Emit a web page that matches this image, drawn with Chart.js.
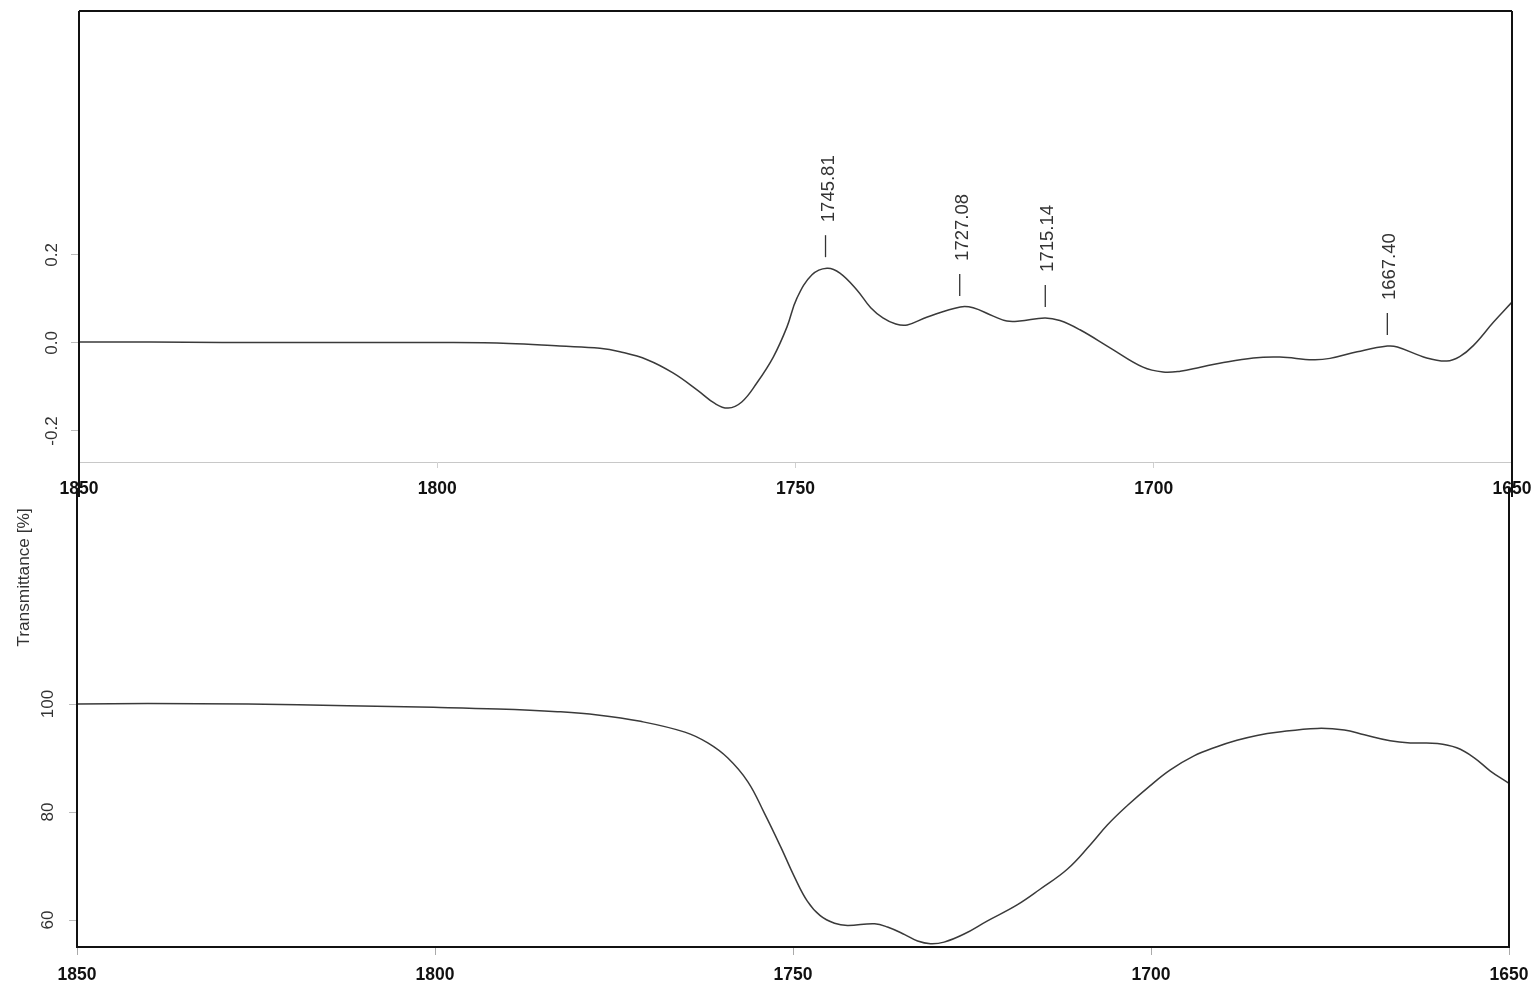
<!DOCTYPE html>
<html>
<head>
<meta charset="utf-8">
<title>IR spectrum 1850-1650</title>
<script src="https://cdn.jsdelivr.net/npm/chart.js@4.4.1/dist/chart.umd.min.js"></script>
<style>
  html, body { margin: 0; padding: 0; background: #fff; }
  #wrap { position: relative; width: 1534px; height: 988px; }
  canvas { position: absolute; left: 0; top: 0; }
</style>
</head>
<body>
<div id="wrap">
  <canvas id="deriv" width="1534" height="520"></canvas>
  <canvas id="trans" width="1534" height="988"></canvas>
</div>
<script>
// wavenumber axis (cm-1), shared by both panels
const wavenumberTicks = [1850, 1800, 1750, 1700, 1650];

// upper panel: derivative spectrum
const derivWavenumber = [1850, 1840, 1830, 1820, 1810, 1800, 1790, 1782.9, 1777.3, 1774.5,
  1770.7, 1767.1, 1763.7, 1761.2, 1759.4, 1757.5, 1755.4, 1753.1, 1751.2, 1749.8,
  1747.7, 1745.6, 1743.8, 1741.4, 1739.5, 1737.8, 1736.0, 1734.4, 1731.6, 1727.0,
  1725.2, 1722.4, 1720.5, 1718.7, 1715.2, 1713.1, 1710.3, 1706.1, 1701.5, 1698.7,
  1696.3, 1693.5, 1690.8, 1686.1, 1682.4, 1677.8, 1675.4, 1671.6, 1667.4, 1666.0,
  1661.9, 1659.1, 1657.3, 1655.4, 1652.6, 1650];
const derivValue = [0.002, 0.002, 0.001, 0.001, 0.001, 0.001, -0.001, -0.007, -0.012, -0.020,
  -0.038, -0.068, -0.107, -0.138, -0.148, -0.134, -0.091, -0.032, 0.036, 0.102,
  0.155, 0.170, 0.159, 0.120, 0.080, 0.057, 0.043, 0.041, 0.059, 0.082,
  0.080, 0.061, 0.050, 0.050, 0.057, 0.051, 0.030, -0.011, -0.055, -0.066,
  -0.064, -0.055, -0.046, -0.034, -0.032, -0.038, -0.035, -0.020, -0.007, -0.009,
  -0.034, -0.041, -0.031, -0.006, 0.047, 0.093];
const derivTicks = [-0.2, 0.0, 0.2];

// picked peaks
const peakPositions = [1745.81, 1727.08, 1715.14, 1667.40];
const peakValues = [0.170, 0.082, 0.057, -0.007];

// lower panel: transmittance
const transWavenumber = [1850, 1840.1, 1826.1, 1812.2, 1800.2, 1791.2, 1782.9, 1777.3, 1771.3, 1765.1,
  1761.9, 1759.1, 1756.3, 1754.0, 1751.7, 1749.8, 1748.0, 1746.2, 1744.2, 1742.4,
  1738.6, 1736.8, 1734.4, 1732.6, 1730.8, 1728.9, 1726.1, 1722.9, 1718.7, 1715.5,
  1711.7, 1708.5, 1706.1, 1703.3, 1700.1, 1697.3, 1694.0, 1690.8, 1688.0, 1685.2,
  1682.4, 1676.8, 1673.0, 1670.2, 1666.6, 1663.8, 1660.0, 1657.3, 1654.9, 1652.6, 1650];
const transValue = [100.0, 100.1, 100.0, 99.7, 99.4, 99.1, 98.6, 98.0, 96.8, 94.8,
  92.8, 90.0, 85.6, 79.8, 73.5, 68.0, 63.5, 60.8, 59.4, 59.0,
  59.3, 58.7, 57.3, 56.1, 55.6, 55.9, 57.4, 59.8, 62.8, 65.7,
  69.4, 73.9, 77.6, 81.2, 84.9, 87.8, 90.4, 92.1, 93.3, 94.2,
  94.8, 95.5, 95.2, 94.3, 93.2, 92.8, 92.7, 91.9, 90.1, 87.6, 85.3];
const transTicks = [60, 80, 100];

Chart.defaults.font.family = '"Liberation Sans", Arial, sans-serif';
Chart.defaults.color = '#333';

const LINE = '#3a3a3a';

// black frame lines on the plot area (sides, optional top)
const frame = {
  id: 'frame',
  afterDraw(chart, args, opts) {
    const { ctx, chartArea: a } = chart;
    const y0 = opts.startY != null ? opts.startY : a.top;
    const y1 = a.bottom + (opts.extend || 0);
    ctx.save();
    ctx.strokeStyle = '#111';
    ctx.lineWidth = 2;
    ctx.beginPath();
    if (opts.top) {
      ctx.moveTo(a.left, a.top);
      ctx.lineTo(a.right, a.top);
    }
    ctx.moveTo(a.left, y0);
    ctx.lineTo(a.left, y1);
    ctx.moveTo(a.right, y0);
    ctx.lineTo(a.right, y1);
    ctx.stroke();
    ctx.restore();
  }
};

// peak markers with rotated labels
const peakMarks = {
  id: 'peakMarks',
  afterDatasetsDraw(chart) {
    const { ctx, scales: { x, y } } = chart;
    ctx.save();
    ctx.strokeStyle = '#333';
    ctx.fillStyle = '#333';
    ctx.lineWidth = 1.3;
    ctx.font = '18.5px "Liberation Sans", Arial, sans-serif';
    peakPositions.forEach((p, i) => {
      const px = x.getPixelForValue(p);
      const py = y.getPixelForValue(peakValues[i]);
      ctx.beginPath();
      ctx.moveTo(px, py - 11);
      ctx.lineTo(px, py - 33);
      ctx.stroke();
      ctx.save();
      ctx.translate(px + 3, py - 46);
      ctx.rotate(-Math.PI / 2);
      ctx.textAlign = 'left';
      ctx.textBaseline = 'middle';
      ctx.fillText(p.toFixed(2), 0, 0);
      ctx.restore();
    });
    ctx.restore();
  }
};

function xAxis(height, tickLen, pad, borderColor, borderWidth, tickColor) {
  return {
    type: 'linear',
    reverse: true,
    min: 1650,
    max: 1850,
    afterBuildTicks: (s) => { s.ticks = wavenumberTicks.map(v => ({ value: v })); },
    afterFit: (s) => { s.height = height; s.paddingLeft = 0; s.paddingRight = 0; },
    grid: { drawOnChartArea: false, tickLength: tickLen, color: tickColor },
    border: { color: borderColor, width: borderWidth },
    ticks: {
      padding: pad,
      maxRotation: 0,
      color: '#111',
      font: { size: 17.5, weight: 'bold' },
      callback: (v) => String(v)
    }
  };
}

function yAxis(width, min, max, tickList, pad, fmt) {
  return {
    min: min,
    max: max,
    afterBuildTicks: (s) => { s.ticks = tickList.map(v => ({ value: v })); },
    afterFit: (s) => { s.width = width; s.paddingTop = 0; s.paddingBottom = 0; },
    grid: { drawOnChartArea: false, tickLength: 8, color: '#bbb' },
    border: { display: false },
    ticks: {
      minRotation: 90,
      maxRotation: 90,
      crossAlign: 'center',
      padding: pad,
      color: '#333',
      font: { size: 17 },
      callback: fmt
    }
  };
}

const common = {
  responsive: false,
  animation: false,
  events: [],
  elements: { point: { radius: 0 } }
};

new Chart(document.getElementById('deriv'), {
  type: 'line',
  data: {
    datasets: [{
      data: derivWavenumber.map((w, i) => ({ x: w, y: derivValue[i] })),
      borderColor: LINE,
      borderWidth: 1.5,
      tension: 0.4,
      fill: false
    }]
  },
  options: {
    ...common,
    layout: { padding: { top: 11, left: 0, right: 22, bottom: 0 } },
    plugins: { legend: { display: false }, tooltip: { enabled: false }, frame: { top: true, extend: 35 } },
    scales: {
      x: xAxis(58, 6, 11, '#c8c8c8', 1, '#d0d0d0'),
      y: yAxis(79, -0.2705, 0.7545, derivTicks, 4.4, (v) => v.toFixed(1))
    }
  },
  plugins: [frame, peakMarks]
});

new Chart(document.getElementById('trans'), {
  type: 'line',
  data: {
    datasets: [{
      data: transWavenumber.map((w, i) => ({ x: w, y: transValue[i] })),
      borderColor: LINE,
      borderWidth: 1.5,
      tension: 0.4,
      fill: false
    }]
  },
  options: {
    ...common,
    layout: { padding: { top: 208, left: 0, right: 25, bottom: 0 } },
    plugins: { legend: { display: false }, tooltip: { enabled: false }, frame: { top: false, extend: 0, startY: 488 } },
    scales: {
      x: xAxis(41, 8, 10, '#111', 2, '#aaa'),
      y: {
        ...yAxis(77, 55, 191.9, transTicks, 6.8, (v) => String(v)),
        title: {
          display: true,
          text: 'Transmittance [%]',
          color: '#333',
          font: { size: 17.25 },
          padding: { top: 13.6, bottom: 0 }
        }
      }
    }
  },
  plugins: [frame]
});
</script>
</body>
</html>
